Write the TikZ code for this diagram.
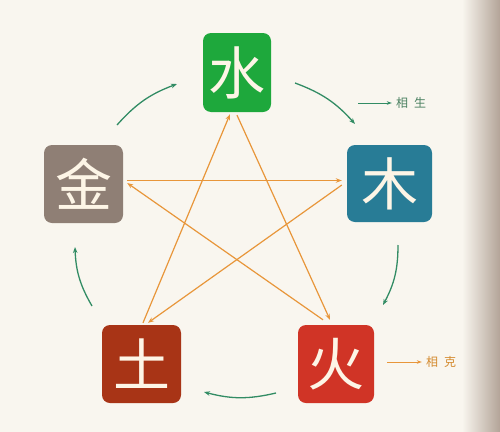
\documentclass[tikz,border=0pt]{standalone}
\usepackage{fontspec}
\newfontfamily\cjk{Noto Sans CJK SC}
\usetikzlibrary{arrows.meta,calc}
\definecolor{bgc}{HTML}{F9F6EF}
\definecolor{bgedge}{HTML}{D2C7BC}
\definecolor{bgright}{HTML}{B3A498}
\definecolor{cshui}{HTML}{1EA83C}
\definecolor{cmu}{HTML}{287C96}
\definecolor{cjin}{HTML}{8F7F75}
\definecolor{ctu}{HTML}{A83416}
\definecolor{chuo}{HTML}{D03426}
\definecolor{corange}{HTML}{E8963A}
\definecolor{cgreen}{HTML}{328C64}
\definecolor{labgreen}{HTML}{4A8060}
\definecolor{laborange}{HTML}{D48A2E}
\definecolor{charc}{HTML}{FDF5E6}
\pgfdeclareradialshading{vign}{\pgfpoint{0bp}{0bp}}{color(0bp)=(bgc); color(58bp)=(bgc); color(71bp)=(bgedge)}
\tikzset{
  elembox/.style={rounded corners=8pt, inner sep=0pt, text=charc,
    font=\cjk\fontsize{57}{57}\selectfont},
  kec/.style={draw=corange, line width=1.2pt, -{Stealth[length=6pt,width=4.5pt]}},
  sheng/.style={draw=cgreen, line width=1.3pt, -{Stealth[length=6pt,width=4.5pt]}},
  legtext/.style={inner sep=0pt, font=\cjk\fontsize{12}{12}\selectfont},
}
\begin{document}
\begin{tikzpicture}[x=1pt,y=-1pt]
\useasboundingbox (0,0) rectangle (500,431);
\shade[shading=vign] (0,0) rectangle (500,431);
\shade[left color=bgc, right color=bgright] (462,0) rectangle (500,431);

% elements
\node[elembox, fill=cshui, minimum width=68pt, minimum height=79pt] (shui) at (237,72.5) {水};
\node[elembox, fill=cmu, minimum width=85pt, minimum height=77pt] (mu) at (389.5,183.5) {木};
\node[elembox, fill=cjin, minimum width=79pt, minimum height=78pt] (jin) at (83.5,184) {金};
\node[elembox, fill=ctu, minimum width=79pt, minimum height=78pt] (tu) at (141.5,364) {土};
\node[elembox, fill=chuo, minimum width=76pt, minimum height=78pt] (huo) at (336,364) {火};

% overcoming (star)
\draw[kec] ([xshift=1.5pt,yshift=2pt]tu.north) -- ([xshift=-7pt,yshift=-2pt]shui.south);
\draw[kec] ([yshift=-3pt]shui.south) -- ([xshift=-6pt,yshift=5pt]huo.north);
\draw[kec] ([xshift=-13pt,yshift=5pt]huo.north) -- ([xshift=4pt,yshift=1pt]jin.east);
\draw[kec] ([xshift=4pt,yshift=3.5pt]jin.east) -- ([xshift=-5pt,yshift=3pt]mu.west);
\draw[kec] ([xshift=-5pt,yshift=-1.5pt]mu.west) -- ([xshift=6.5pt,yshift=2pt]tu.north);

% generating (circle)
\coordinate (g1a) at (295,83);  \coordinate (g1b) at (355,124);
\coordinate (g2a) at (398,245); \coordinate (g2b) at (383,305);
\coordinate (g3a) at (276,393); \coordinate (g3b) at (204,392);
\coordinate (g4a) at (92,306);  \coordinate (g4b) at (75,247);
\coordinate (g5a) at (117,125); \coordinate (g5b) at (177,84);
\draw[sheng] (g1a) to[bend left=14] (g1b);
\draw[sheng] (g2a) to[bend left=14] (g2b);
\draw[sheng] (g3a) to[bend left=14] (g3b);
\draw[sheng] (g4a) to[bend left=14] (g4b);
\draw[sheng] (g5a) to[bend left=14] (g5b);

% legend
\node[legtext, text=labgreen] (lsheng) at (411,103) {相\hspace{6pt}生};
\coordinate (ls) at (358,103);
\draw[draw=cgreen, line width=0.8pt, -{Stealth[length=5pt,width=3.5pt]}] (ls) -- ([xshift=-4pt]lsheng.west);
\node[legtext, text=laborange] (lke) at (441,362) {相\hspace{6pt}克};
\coordinate (lk) at (387,362);
\draw[draw=corange, line width=0.8pt, -{Stealth[length=5pt,width=3.5pt]}] (lk) -- ([xshift=-4pt]lke.west);
\end{tikzpicture}
\end{document}
